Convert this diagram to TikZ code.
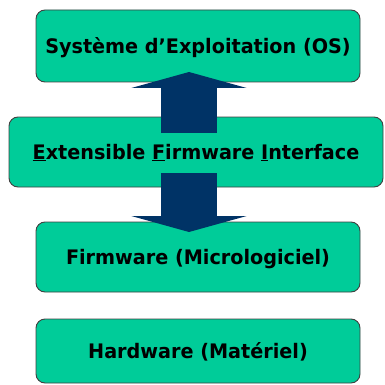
\documentclass[tikz,border=0pt]{standalone}
\usepackage{fontspec}
\setmainfont{DejaVu Sans}[FakeStretch=0.96]
\usepackage{tikz}
\usetikzlibrary{arrows.meta}
\definecolor{layerG}{RGB}{0,204,153}
\definecolor{flowN}{RGB}{0,51,102}

\begin{document}
\begin{tikzpicture}[x=1pt, y=-1pt,
  layer/.style={rectangle, rounded corners=9pt, draw=black!75, line width=0.9pt,
                fill=layerG, minimum height=70pt, inner sep=0pt,
                font=\fontsize{20}{24}\selectfont\bfseries,
                text height=14.5pt, text depth=0pt},
  flow/.style={draw=flowN, line width=56pt,
               -{Triangle[length=16pt, width=115pt]}}]
  \useasboundingbox (0,0) rectangle (384,385);
  % the four layers
  \node[layer, minimum width=324pt, minimum height=72pt] (os) at (198,46)
    {Système d'Exploitation (OS)};
  \node[layer, minimum width=324pt] (fw) at (198,257) {Firmware (Micrologiciel)};
  \node[layer, minimum width=324pt, minimum height=64pt] (hw) at (198,351)
    {Hardware (Matériel)};
  \node[layer, minimum width=374pt] (efi) at (196,152)
    {\underline{E}xtensible \underline{F}irmware \underline{I}nterface};

  % block arrows through the EFI layer
  \coordinate (upS) at (189,133);
  \coordinate (upT) at (189,72);
  \coordinate (dnS) at (189,173);
  \coordinate (dnT) at (189,232);
  \draw[flow] (upS) -- (upT);
  \draw[flow] (dnS) -- (dnT);
\end{tikzpicture}
\end{document}
